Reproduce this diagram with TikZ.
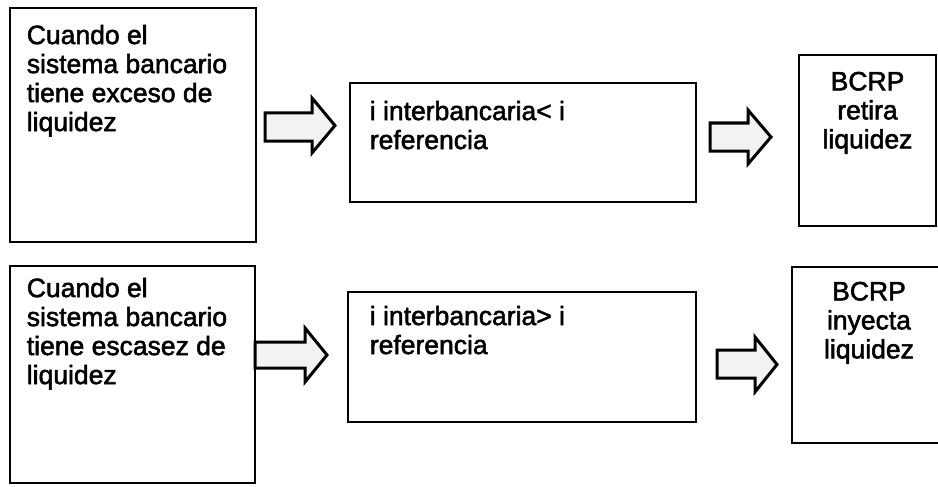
\documentclass[tikz,border=0pt]{standalone}
\usepackage{fontspec}
\setmainfont[FakeBold=2]{Liberation Sans}
\usetikzlibrary{positioning, calc}

\tikzset{
  caja/.style={rectangle, draw=black, line width=2.7pt, fill=white, inner sep=0pt},
  texto/.style={inner sep=0pt, align=left, font=\fontsize{26.5}{29}\selectfont},
  textocentro/.style={texto, align=center},
  flecha/.style={draw=black, line width=3pt, line join=miter, fill=gray!10}
}

\begin{document}
\begin{tikzpicture}[x=1pt, y=-1pt]
    \useasboundingbox (0,0) rectangle (938,487);

    % Cajas
    \node (exceso) [caja, minimum width=246pt, minimum height=234pt] at (133,125) {};
    \node (tasamenor) [caja, minimum width=346pt, minimum height=119pt] at (523,142.5) {};
    \node (retira) [caja, minimum width=137pt, minimum height=171pt] at (867.5,140.5) {};
    \node (escasez) [caja, minimum width=245pt, minimum height=217pt] at (132.5,374.5) {};
    \node (tasamayor) [caja, minimum width=348pt, minimum height=130pt] at (522,357) {};
    \node (inyecta) [caja, minimum width=154pt, minimum height=176pt] at (869,355) {};

    % Textos
    \node (texceso) [texto, anchor=north west] at ([shift={(18,18)}]exceso.north west)
        {Cuando el\\sistema bancario\\tiene exceso de\\liquidez};
    \node (ttasamenor) [texto, anchor=north west] at ([shift={(21,19)}]tasamenor.north west)
        {i interbancaria< i\\referencia};
    \node (tretira) [textocentro, anchor=north] at ([shift={(0,18)}]retira.north)
        {BCRP\\retira\\liquidez};
    \node (tescasez) [texto, anchor=north west] at ([shift={(18,13)}]escasez.north west)
        {Cuando el\\sistema bancario\\tiene escasez de\\liquidez};
    \node (ttasamayor) [texto, anchor=north west] at ([shift={(23,15)}]tasamayor.north west)
        {i interbancaria> i\\referencia};
    \node (tinyecta) [textocentro, anchor=north] at ([shift={(0,16)}]inyecta.north)
        {BCRP\\inyecta\\liquidez};

    % Flechas
    \draw [flecha] (265,113) -- (312,113) -- (312,98) -- (335,125.5) -- (312,153) -- (312,141) -- (265,141) -- cycle;
    \draw [flecha] (710,123) -- (748,123) -- (748,110) -- (771,137) -- (748,164) -- (748,151) -- (710,151) -- cycle;
    \draw [flecha] (255,342) -- (305,342) -- (305,328) -- (327,355) -- (305,382) -- (305,368) -- (255,368) -- cycle;
    \draw [flecha] (717,350) -- (755,350) -- (755,337) -- (777,364.5) -- (755,392) -- (755,378) -- (717,378) -- cycle;
\end{tikzpicture}
\end{document}
